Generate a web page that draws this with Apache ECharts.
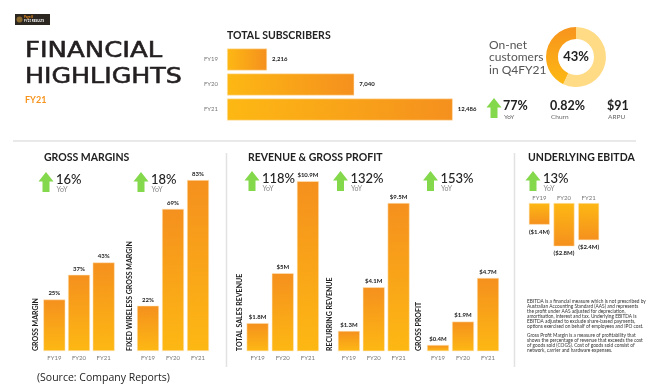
<!DOCTYPE html>
<html><head><meta charset="utf-8">
<script src="https://cdn.jsdelivr.net/npm/echarts@6/dist/echarts.min.js"></script>
<style>html,body{margin:0;padding:0;background:#fff;}#c{width:667px;height:390px;}</style>
</head><body><div id="c"></div>
<script>
// ---- data ----
const years = ['FY19', 'FY20', 'FY21'];
const subscribers = [2216, 7040, 12486];
const onNetShare = 43;
const grossMargin = [25, 37, 43];
const fwGrossMargin = [22, 69, 83];
const totalSalesRevenue = [1.8, 5, 10.9];
const recurringRevenue = [1.3, 4.1, 9.5];
const grossProfit = [0.4, 1.9, 4.7];
const ebitda = [-1.4, -2.8, -2.4];
const subsStats = ['77%', '0.82%', '$91'];
const subsStatNames = ['YoY', 'Churn', 'ARPU'];
const yoy = { gm: '16%', fw: '18%', rev: '118%', rec: '132%', gp: '153%', ebitda: '13%' };

const chart = echarts.init(document.getElementById('c'), null, { renderer: 'canvas' });
const FONT = 'Lato, "Open Sans", sans-serif';
const vGrad = new echarts.graphic.LinearGradient(0, 0, 0, 1, [{ offset: 0, color: '#F5901E' }, { offset: 1, color: '#FDB813' }]);
const vGradInv = new echarts.graphic.LinearGradient(0, 0, 0, 1, [{ offset: 0, color: '#FDB813' }, { offset: 1, color: '#F5901E' }]);
const hGrad = new echarts.graphic.LinearGradient(0, 0, 1, 0, [{ offset: 0, color: '#FDB813' }, { offset: 1, color: '#F5901E' }]);

function grid(left, top, width, height) { return { left, top, width, height, containLabel: false }; }
const grids = [
  grid(227, 47, 226, 75),      // 0 subscribers
  grid(42, 145, 74, 206),      // 1 gross margin
  grid(135.5, 145, 75, 206),   // 2 fw gross margin
  grid(245, 164, 75.5, 187.2), // 3 total sales
  grid(336.5, 164, 74.5, 187.2), // 4 recurring
  grid(425.5, 164, 75, 187.2), // 5 gross profit
  grid(527, 203, 74, 46.5)     // 6 ebitda
];
const catLabel = { fontSize: 6, color: '#777', fontFamily: FONT, margin: 4 };
const xAxes = [], yAxes = [];
// subscribers (horizontal)
xAxes.push({ gridIndex: 0, type: 'value', min: 0, max: 12500, show: false });
yAxes.push({ gridIndex: 0, type: 'category', data: years, inverse: true, axisLine: { show: false }, axisTick: { show: false },
  axisLabel: Object.assign({}, catLabel, { margin: 9 }) });
const vMax = [null, 100, 100, 12, 12, 12];
for (let g = 1; g <= 5; g++) {
  xAxes.push({ gridIndex: g, type: 'category', data: years, axisLine: { show: false }, axisTick: { show: false }, axisLabel: catLabel });
  yAxes.push({ gridIndex: g, type: 'value', min: 0, max: vMax[g], show: false });
}
xAxes.push({ gridIndex: 6, type: 'category', data: years, position: 'top', axisLine: { show: false }, axisTick: { show: false },
  axisLabel: Object.assign({}, catLabel, { margin: 2 }) });
yAxes.push({ gridIndex: 6, type: 'value', min: -3, max: 0, show: false });

const valLabel = { show: true, fontSize: 6, fontWeight: 'bold', color: '#222', fontFamily: FONT, distance: 3 };
function vbar(idx, data, fmt) {
  return { type: 'bar', xAxisIndex: idx, yAxisIndex: idx, data, barWidth: 22,
    itemStyle: { color: vGrad, borderColor: 'rgba(255,230,190,0.9)', borderWidth: 0.6 },
    label: Object.assign({}, valLabel, { position: 'top', formatter: p => fmt(p.value) }) };
}
const money = v => '$' + v + 'M';
const pct = v => v + '%';

const series = [
  { type: 'bar', xAxisIndex: 0, yAxisIndex: 0, data: subscribers, barWidth: 22,
    itemStyle: { color: hGrad, borderColor: 'rgba(255,230,190,0.9)', borderWidth: 0.6 },
    label: Object.assign({}, valLabel, { position: 'right', distance: 5, formatter: p => p.value.toLocaleString('en-US') }) },
  vbar(1, grossMargin, pct),
  vbar(2, fwGrossMargin, pct),
  vbar(3, totalSalesRevenue, money),
  vbar(4, recurringRevenue, money),
  vbar(5, grossProfit, money),
  { type: 'bar', xAxisIndex: 6, yAxisIndex: 6, data: ebitda, barWidth: 21,
    itemStyle: { color: vGradInv, borderColor: 'rgba(255,230,190,0.9)', borderWidth: 0.6 },
    label: Object.assign({}, valLabel, { position: 'bottom', distance: 4, formatter: p => '($' + Math.abs(p.value) + 'M)' }) },
  { type: 'pie', center: [576, 57], radius: [18, 30], clockwise: false, startAngle: 90, silent: true,
    labelLine: { show: false },
    data: [
      { value: onNetShare, itemStyle: { color: new echarts.graphic.LinearGradient(0, 0, 0, 1, [{ offset: 0, color: '#F7941D' }, { offset: 1, color: '#FDB813' }]) },
        label: { show: true, position: 'center', formatter: onNetShare + '%', fontSize: 13, fontWeight: 'bold', color: '#222', fontFamily: FONT } },
      { value: 100 - onNetShare, itemStyle: { color: '#FFDB85' }, label: { show: false } }
    ] }
];

// ---- decorations ----
function arrow(x, y) {
  return { type: 'polygon', silent: true, shape: { points: [[x + 7, y], [x + 14.5, y + 9.5], [x + 10.5, y + 9.5], [x + 10.5, y + 20], [x + 3.5, y + 20], [x + 3.5, y + 9.5], [x - 0.5, y + 9.5]] },
    style: { fill: '#84D84C' } };
}
function txt(x, y, text, size, opts, extra) {
  return Object.assign({ type: 'text', silent: true, x, y, style: Object.assign({ text, fontSize: size, fill: '#222', fontFamily: FONT, textVerticalAlign: 'middle' }, opts || {}) }, extra || {});
}
function vtxt(x, y, text) {
  return { type: 'text', silent: true, x, y, rotation: Math.PI / 2,
    style: { text, fontSize: 7, fontWeight: 'bold', fill: '#222', fontFamily: FONT, textVerticalAlign: 'middle', textAlign: 'left' } };
}
function yoyBlock(ax, ay, value) {
  return [arrow(ax, ay), txt(ax + 17, ay + 7.5, value, 13, { fontWeight: 500 }), txt(ax + 17.5, ay + 17.5, 'YoY', 7, { fill: '#888' })];
}
const lineStyle = { stroke: '#E2E2E2', lineWidth: 1.5 };
const footnote = [
  'EBITDA is a financial measure which is not prescribed by',
  'Australian Accounting Standard (AAS) and represents',
  'the profit under AAS adjusted for depreciation,',
  'amortisation, interest and tax. Underlying EBITDA is',
  'EBITDA adjusted to exclude share-based payments,',
  'options exercised on behalf of employees and IPO cost.',
  '',
  'Gross Profit Margin is a measure of profitability that',
  'shows the percentage of revenue that exceeds the cost',
  'of goods sold (COGS). Cost of goods sold consist of',
  'network, carrier and hardware expenses.'
].join('\n');

const graphic = [
  { type: 'rect', silent: true, shape: { x: 15, y: 14, width: 35, height: 11 }, style: { fill: '#2B2620' } },
  { type: 'circle', silent: true, shape: { cx: 19.5, cy: 19.5, r: 3 }, style: { fill: '#8A6A2E' } },
  txt(24, 17.2, 'Page 8', 3, { fill: '#F7941D', fontWeight: 'bold' }),
  txt(24, 21.5, 'FY21 RESULTS', 3, { fill: '#ffffff', fontWeight: 'bold' }),
  txt(25, 51.5, 'FINANCIAL', 22, { fontFamily: '"DejaVu Sans"', fill: '#231F20', stroke: '#231F20', lineWidth: 0.6 }, { scaleX: 1.18 }),
  txt(25, 77, 'HIGHLIGHTS', 22, { fontFamily: '"DejaVu Sans"', fill: '#231F20', stroke: '#231F20', lineWidth: 0.6 }, { scaleX: 1.15 }),
  txt(25, 100.5, 'FY21', 9, { fill: '#F7941D', fontWeight: 'bold' }),
  txt(227, 36, 'TOTAL SUBSCRIBERS', 10.5, { fontWeight: 'bold' }),
  txt(489, 45, 'On-net', 12, { fill: '#555' }),
  txt(489, 57.5, 'customers', 12, { fill: '#555' }),
  txt(489, 70, 'in Q4FY21', 12, { fill: '#555' }),
  arrow(487, 98),
  txt(503, 106, subsStats[0], 12.5, { fontWeight: 'bold' }),
  txt(550, 106, subsStats[1], 12.5, { fontWeight: 'bold' }),
  txt(607, 106, subsStats[2], 12.5, { fontWeight: 'bold' }),
  txt(504, 116.5, subsStatNames[0], 6.5, { fill: '#666' }),
  txt(551, 116.5, subsStatNames[1], 6.5, { fill: '#666' }),
  txt(608, 116.5, subsStatNames[2], 6.5, { fill: '#666' }),
  { type: 'line', silent: true, shape: { x1: 13, y1: 141, x2: 636, y2: 141 }, style: lineStyle },
  { type: 'line', silent: true, shape: { x1: 226.5, y1: 153, x2: 226.5, y2: 367 }, style: lineStyle },
  { type: 'line', silent: true, shape: { x1: 514.5, y1: 153, x2: 514.5, y2: 367 }, style: lineStyle },
  txt(44, 158, 'GROSS MARGINS', 10.5, { fontWeight: 'bold' }),
  txt(248, 158, 'REVENUE & GROSS PROFIT', 10.5, { fontWeight: 'bold' }),
  txt(528, 158, 'UNDERLYING EBITDA', 10.5, { fontWeight: 'bold' }),
  ...yoyBlock(39, 172, yoy.gm),
  ...yoyBlock(134, 172, yoy.fw),
  ...yoyBlock(245, 171, yoy.rev),
  ...yoyBlock(333.5, 171, yoy.rec),
  ...yoyBlock(423.5, 171, yoy.gp),
  ...yoyBlock(526, 171, yoy.ebitda),
  vtxt(36, 351, 'GROSS MARGIN'),
  vtxt(130, 351, 'FIXED WIRELESS GROSS MARGIN'),
  vtxt(240, 351, 'TOTAL SALES REVENUE'),
  vtxt(330, 351, 'RECURRING REVENUE'),
  vtxt(418.5, 351, 'GROSS PROFIT'),
  { type: 'text', silent: true, x: 527, y: 299, style: { text: footnote, fontSize: 4.8, lineHeight: 4.9, fill: '#333', fontFamily: FONT } },
  txt(37, 378, '(Source: Company Reports)', 10.5, { fontFamily: '"Open Sans"', fill: '#222' })
];

chart.setOption({
  animation: false,
  backgroundColor: '#ffffff',
  grid: grids, xAxis: xAxes, yAxis: yAxes, series, graphic
});
</script></body></html>
